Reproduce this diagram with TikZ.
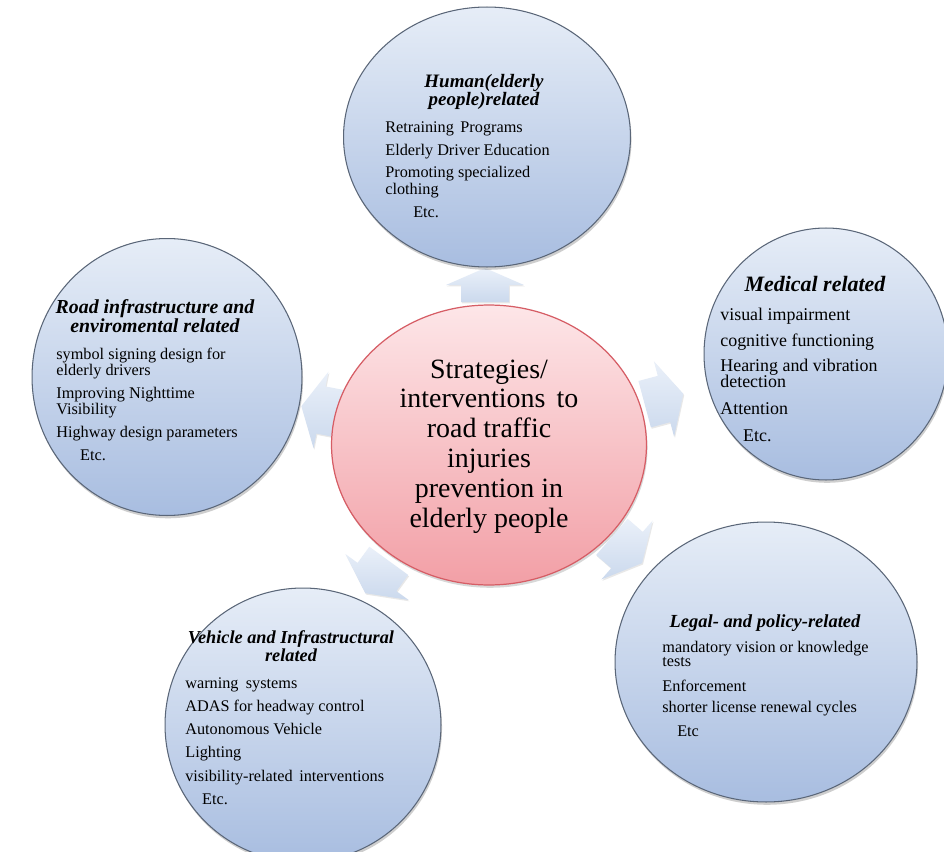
\documentclass[tikz,border=0pt]{standalone}
\usepackage{fontspec}
\setmainfont{Liberation Serif}
\usetikzlibrary{shapes.geometric,shadows}

\definecolor{bluetop}{HTML}{E6EDF7}
\definecolor{bluebot}{HTML}{A8BDE0}
\definecolor{blueedge}{HTML}{5A6678}
\definecolor{pinktop}{HTML}{FDE6E8}
\definecolor{pinkbot}{HTML}{F29FA6}
\definecolor{pinkedge}{HTML}{D65D65}
\definecolor{arrtop}{HTML}{EAF0F9}
\definecolor{arrbot}{HTML}{CBD9ED}

\newcommand{\myC}[1]{\hbox to 0pt{\hss#1\hss}}
\newcommand{\myL}[1]{\hbox{#1}}

\tikzset{
  bluecirc/.style={ellipse, draw=blueedge, line width=0.6pt,
    top color=bluetop, bottom color=bluebot, inner sep=0pt,
    drop shadow={shadow xshift=0.6pt, shadow yshift=-1.6pt, opacity=0.35, fill=black!55}},
  pinkcirc/.style={ellipse, draw=pinkedge, line width=0.7pt,
    top color=pinktop, bottom color=pinkbot, inner sep=0pt,
    drop shadow={shadow xshift=0.6pt, shadow yshift=-1.6pt, opacity=0.3, fill=black!50}},
  arrowfill/.style={top color=arrtop, bottom color=arrbot,
    drop shadow={shadow xshift=0.5pt, shadow yshift=-0.8pt, opacity=0.18, fill=black!50}},
  txt/.style={inner sep=0pt, text=black},
  blockarrow/.pic={
    \path[arrowfill] (-20,-24) -- (0,-24) -- (0,-39) -- (20,0) -- (0,39) -- (0,24) -- (-20,24) -- cycle;
  }
}

\begin{document}
\begin{tikzpicture}[x=0.02cm, y=-0.02cm]
\useasboundingbox (0,0) rectangle (944,852);
\fill[white] (0,0) rectangle (944,852);

% block arrows (drawn first, ellipses overlap them)
\pic[rotate=90, xscale=0.85] (aT) at (485,285) {blockarrow};
\pic[rotate=15] (aR) at (664,399) {blockarrow};
\pic[rotate=169] (aL) at (321,410) {blockarrow};
\pic[rotate=234] (aBL) at (377,577) {blockarrow};
\pic[rotate=-41] (aBR) at (627,550) {blockarrow};

% ellipses
\node[bluecirc, minimum width=5.74cm, minimum height=5.2cm] (top) at (487,137) {};
\node[bluecirc, minimum width=4.88cm, minimum height=5.04cm] (med) at (826,354) {};
\node[bluecirc, minimum width=5.4cm, minimum height=5.54cm] (road) at (167,377) {};
\node[bluecirc, minimum width=5.52cm, minimum height=5.48cm] (veh) at (303,725) {};
\node[bluecirc, minimum width=6.04cm, minimum height=5.6cm] (legal) at (766,662) {};
\node[pinkcirc, minimum width=6.3cm, minimum height=5.6cm] (center) at (489,445) {};

% centre text
\node[txt, anchor=base, font=\fontsize{15.9}{17}\selectfont] (ctext) at (489,378)
 {\vtop{\lineskiplimit=-30pt
   \myC{Strategies/}\myC{interventions\hspace{0.4em}to}\myC{road traffic}\myC{injuries}\myC{prevention in}\myC{elderly people}}};

% top circle
\node[txt, anchor=base, font=\fontsize{10.8}{10.6}\selectfont\bfseries\itshape] (ttitle) at (484,87)
 {\vtop{\lineskiplimit=-30pt \myC{Human(elderly}\myC{people)related}}};
\node[txt, anchor=base west, font=\fontsize{9.25}{9.6}\selectfont] (tbody) at (385,132)
 {\vtop{\lineskiplimit=-30pt
   \myL{Retraining\hspace{0.4em}Programs}\vskip3.7pt
   \myL{Elderly Driver Education}\vskip3.2pt
   \myL{Promoting specialized}
   \myL{clothing}\vskip3.4pt
   \myL{\hspace{15.9pt}Etc.}}};

% medical circle
\node[txt, anchor=base, font=\fontsize{12.5}{12.5}\selectfont\bfseries\itshape] (mtitle) at (815,291)
 {\myC{Medical related}};
\node[txt, anchor=base west, font=\fontsize{10.2}{9.1}\selectfont] (mbody) at (720,320)
 {\vtop{\lineskiplimit=-30pt
   \myL{visual impairment}\vskip6.0pt
   \myL{cognitive functioning}\vskip5.1pt
   \myL{Hearing and vibration}
   \myL{detection}\vskip6.2pt
   \myL{Attention}\vskip6.2pt
   \myL{\hspace{13pt}Etc.}}};

% road circle
\node[txt, anchor=base, font=\fontsize{11.3}{11.3}\selectfont\bfseries\itshape] (rtitle) at (155,313)
 {\vtop{\lineskiplimit=-30pt \myC{Road infrastructure and}\myC{enviromental related}}};
\node[txt, anchor=base west, font=\fontsize{9.25}{9.2}\selectfont] (rbody) at (56,359)
 {\vtop{\lineskiplimit=-30pt
   \myL{symbol signing design for}
   \myL{elderly drivers}\vskip3.8pt
   \myL{Improving Nighttime}
   \myL{Visibility}\vskip3.8pt
   \myL{Highway design parameters}\vskip4.4pt
   \myL{\hspace{13.6pt}Etc.}}};

% vehicle circle
\node[txt, anchor=base, font=\fontsize{10.4}{10.8}\selectfont\bfseries\itshape] (vtitle) at (291,643)
 {\vtop{\lineskiplimit=-30pt \myC{Vehicle and Infrastructural}\myC{related}}};
\node[txt, anchor=base west, font=\fontsize{9.25}{13.27}\selectfont] (vbody) at (185,688)
 {\vtop{\lineskiplimit=-30pt
   \myL{warning\hspace{0.45em}systems}
   \myL{ADAS for headway control}
   \myL{Autonomous Vehicle}
   \myL{Lighting}
   \myL{visibility-related\hspace{0.4em}interventions}
   \myL{\hspace{9.6pt}Etc.}}};

% legal circle
\node[txt, anchor=base, font=\fontsize{10.5}{10.5}\selectfont\bfseries\itshape] (ltitle) at (765,627)
 {\myC{Legal- and policy-related}};
\node[txt, anchor=base west, font=\fontsize{9.25}{8.5}\selectfont] (lbody) at (662,652)
 {\vtop{\lineskiplimit=-30pt
   \myL{mandatory vision or knowledge}
   \myL{tests}\vskip5.6pt
   \myL{Enforcement}\vskip3.4pt
   \myL{shorter license renewal cycles}\vskip5.1pt
   \myL{\hspace{8.5pt}Etc}}};
\end{tikzpicture}
\end{document}
